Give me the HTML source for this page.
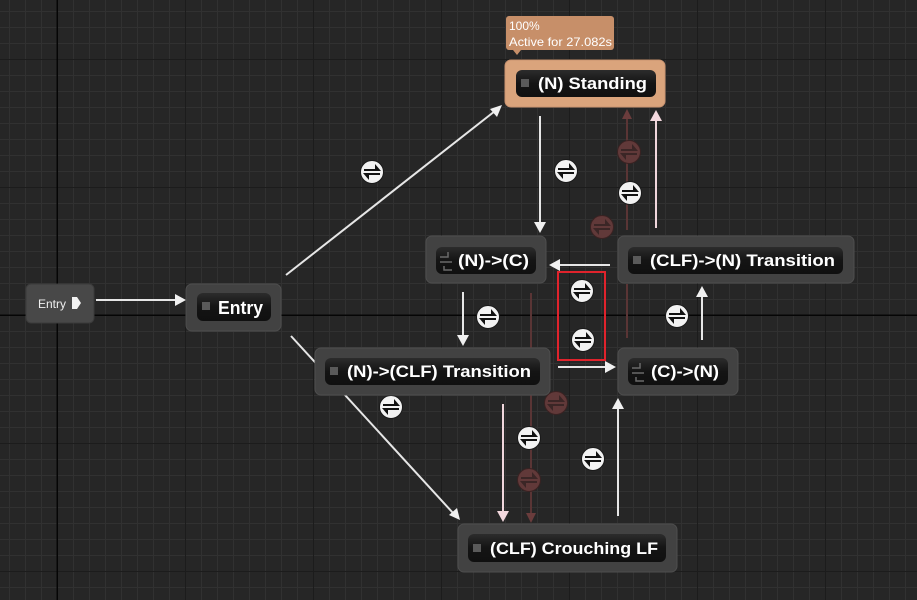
<!DOCTYPE html>
<html><head><meta charset="utf-8"><style>
html,body{margin:0;padding:0;background:#262626;}
svg{display:block;}
text{font-family:"Liberation Sans",sans-serif;}
</style></head><body>
<svg width="917" height="600" viewBox="0 0 917 600" xmlns="http://www.w3.org/2000/svg">
<defs>
<pattern id="minor" x="9" y="11" width="16" height="16" patternUnits="userSpaceOnUse">
<rect width="16" height="16" fill="#262626"/>
<rect x="0" y="0" width="1" height="16" fill="#313131"/>
<rect x="0" y="0" width="16" height="1" fill="#313131"/>
</pattern>
<linearGradient id="pill" x1="0" y1="0" x2="0" y2="1">
<stop offset="0" stop-color="#2c2c2c"/><stop offset="0.5" stop-color="#141414"/><stop offset="1" stop-color="#101010"/>
</linearGradient>
<g id="ic">
<circle r="11.5" fill="#f2f2f2" stroke="#1a1a1a" stroke-width="1"/>
<rect x="-8" y="-3" width="12" height="2" fill="#111"/>
<polygon points="3,-8 9,-1 3,-1" fill="#111"/>
<rect x="-4" y="1" width="12" height="2" fill="#111"/>
<polygon points="-3,1 -9,1 -3,8" fill="#111"/>
</g>
<g id="fic">
<circle r="11.5" fill="#613939" stroke="#3a2222" stroke-width="1"/>
<rect x="-8" y="-3" width="12" height="2" fill="#3b2626"/>
<polygon points="3,-8 9,-1 3,-1" fill="#3b2626"/>
<rect x="-4" y="1" width="12" height="2" fill="#3b2626"/>
<polygon points="-3,1 -9,1 -3,8" fill="#3b2626"/>
</g>
</defs>
<rect width="917" height="600" fill="url(#minor)"/>
<!-- major grid -->
<g fill="#1c1c1c">
<rect x="185" y="0" width="1" height="600"/><rect x="313" y="0" width="1" height="600"/>
<rect x="441" y="0" width="1" height="600"/><rect x="569" y="0" width="1" height="600"/>
<rect x="697" y="0" width="1" height="600"/><rect x="825" y="0" width="1" height="600"/>
<rect x="0" y="59" width="917" height="1"/><rect x="0" y="187" width="917" height="1"/>
<rect x="0" y="443" width="917" height="1"/><rect x="0" y="571" width="917" height="1"/>
</g>
<rect x="56.5" y="0" width="1.5" height="600" fill="#050505"/>
<rect x="0" y="314.5" width="917" height="1.5" fill="#050505"/>

<!-- faded connectors -->
<g stroke="#5a3535" stroke-width="2" fill="none">
<line x1="627" y1="230" x2="627" y2="118"/>
<line x1="531" y1="293" x2="531" y2="514"/>
<line x1="627" y1="284" x2="627" y2="338"/>
</g>
<polygon points="627,109 622,119 632,119" fill="#6a3c3c"/>
<polygon points="531,523 526,513 536,513" fill="#6a3c3c"/>

<!-- connectors -->
<g stroke="#e6e6e6" stroke-width="2" fill="none">
<line x1="96" y1="300" x2="176" y2="300"/>
<line x1="286" y1="275" x2="495" y2="111"/>
<line x1="291" y1="336" x2="453" y2="513"/>
<line x1="540" y1="116" x2="540" y2="224"/>
<line x1="610" y1="265" x2="559" y2="265"/>
<line x1="558" y1="367" x2="606" y2="367"/>
<line x1="463" y1="292" x2="463" y2="336"/>
<line x1="702" y1="340" x2="702" y2="296"/>
<line x1="618" y1="516" x2="618" y2="408"/>
</g>
<g stroke="#f0d6dc" stroke-width="2" fill="none">
<line x1="656" y1="228" x2="656" y2="120"/>
<line x1="503" y1="404" x2="503" y2="513"/>
</g>
<g fill="#f0f0f0">
<polygon points="186,300 175,294 175,306"/>
<polygon points="502,105 490,109 497,117"/>
<polygon points="460,520 449,515 457,508"/>
<polygon points="540,233 534,222 546,222"/>
<polygon points="549,265 560,259 560,271"/>
<polygon points="616,367 605,361 605,373"/>
<polygon points="463,346 457,335 469,335"/>
<polygon points="702,286 696,297 708,297"/>
<polygon points="618,398 612,409 624,409"/>
</g>
<g fill="#f3d8de">
<polygon points="656,110 650,121 662,121"/>
<polygon points="503,522 497,511 509,511"/>
</g>

<!-- faded icons -->
<use href="#fic" x="629" y="152"/>
<use href="#fic" x="602" y="227"/>
<use href="#fic" x="556" y="403"/>
<use href="#fic" x="529" y="480"/>

<!-- icons -->
<use href="#ic" x="372" y="172"/>
<use href="#ic" x="566" y="171"/>
<use href="#ic" x="630" y="193"/>
<use href="#ic" x="582" y="291"/>
<use href="#ic" x="583" y="340"/>
<use href="#ic" x="488" y="317"/>
<use href="#ic" x="677" y="316"/>
<use href="#ic" x="391" y="407"/>
<use href="#ic" x="529" y="438"/>
<use href="#ic" x="593" y="459"/>

<!-- red selection box -->
<rect x="558" y="272" width="47" height="88" fill="none" stroke="#e0232c" stroke-width="2"/>

<!-- Entry small node -->
<rect x="26" y="284" width="68" height="39" rx="5" fill="#484848" stroke="#3a3a3a" stroke-width="1"/>
<text x="38" y="308" font-size="12" fill="#f0f0f0">Entry</text>
<path d="M72,297 H77 L81,303 L77,309 H72 Z" fill="#f2f2f2"/>

<!-- Entry state -->
<rect x="186" y="284" width="95" height="47" rx="6" fill="#424242" stroke="#4e4e4e"/>
<rect x="197" y="293" width="74" height="28" rx="6" fill="url(#pill)"/>
<rect x="202" y="302" width="8" height="8" fill="#5a5a5a"/>
<text x="218" y="314" font-size="18" font-weight="bold" fill="#fff" textLength="45" lengthAdjust="spacingAndGlyphs">Entry</text>

<!-- tooltip -->
<rect x="506" y="16" width="108" height="34" rx="3" fill="#c78f69"/>
<polygon points="513,50 521,50 517,55" fill="#c78f69"/>
<text x="509" y="30" font-size="12" fill="#fff">100%</text>
<text x="509" y="46" font-size="12" fill="#fff" textLength="103" lengthAdjust="spacingAndGlyphs">Active for 27.082s</text>

<!-- Standing -->
<rect x="505" y="60" width="160" height="47" rx="6" fill="#daa47c" stroke="#c99370"/>
<rect x="516" y="70" width="140" height="27" rx="6" fill="url(#pill)"/>
<rect x="521" y="79" width="8" height="8" fill="#5a5a5a"/>
<text x="538" y="89" font-size="17" font-weight="bold" fill="#fff" textLength="109" lengthAdjust="spacingAndGlyphs">(N) Standing</text>

<!-- (N)->(C) -->
<rect x="426" y="236" width="120" height="47" rx="6" fill="#424242" stroke="#4e4e4e"/>
<rect x="436" y="247" width="100" height="27" rx="6" fill="url(#pill)"/>
<g stroke="#6a6a6a" stroke-width="1.5" fill="none"><path d="M448,252 V257 H440"/><path d="M440,262 H452 M444,266 V270 H452"/></g>
<text x="458" y="266" font-size="17" font-weight="bold" fill="#fff" textLength="71" lengthAdjust="spacingAndGlyphs">(N)-&gt;(C)</text>

<!-- (CLF)->(N) Transition -->
<rect x="618" y="236" width="236" height="47" rx="6" fill="#424242" stroke="#4e4e4e"/>
<rect x="628" y="247" width="215" height="27" rx="6" fill="url(#pill)"/>
<rect x="633" y="256" width="8" height="8" fill="#5a5a5a"/>
<text x="650" y="266" font-size="17" font-weight="bold" fill="#fff" textLength="185" lengthAdjust="spacingAndGlyphs">(CLF)-&gt;(N) Transition</text>

<!-- (N)->(CLF) Transition -->
<rect x="315" y="348" width="235" height="47" rx="6" fill="#424242" stroke="#4e4e4e"/>
<rect x="325" y="358" width="215" height="27" rx="6" fill="url(#pill)"/>
<rect x="330" y="367" width="8" height="8" fill="#5a5a5a"/>
<text x="347" y="377" font-size="17" font-weight="bold" fill="#fff" textLength="184" lengthAdjust="spacingAndGlyphs">(N)-&gt;(CLF) Transition</text>

<!-- (C)->(N) -->
<rect x="618" y="348" width="120" height="47" rx="6" fill="#424242" stroke="#4e4e4e"/>
<rect x="628" y="358" width="100" height="27" rx="6" fill="url(#pill)"/>
<g stroke="#6a6a6a" stroke-width="1.5" fill="none"><path d="M640,363 V368 H632"/><path d="M632,373 H644 M636,377 V381 H644"/></g>
<text x="651" y="377" font-size="17" font-weight="bold" fill="#fff" textLength="68" lengthAdjust="spacingAndGlyphs">(C)-&gt;(N)</text>

<!-- (CLF) Crouching LF -->
<rect x="458" y="524" width="219" height="48" rx="6" fill="#424242" stroke="#4e4e4e"/>
<rect x="468" y="534" width="198" height="28" rx="6" fill="url(#pill)"/>
<rect x="473" y="544" width="8" height="8" fill="#5a5a5a"/>
<text x="490" y="554" font-size="17" font-weight="bold" fill="#fff" textLength="168" lengthAdjust="spacingAndGlyphs">(CLF) Crouching LF</text>
</svg>
</body></html>
